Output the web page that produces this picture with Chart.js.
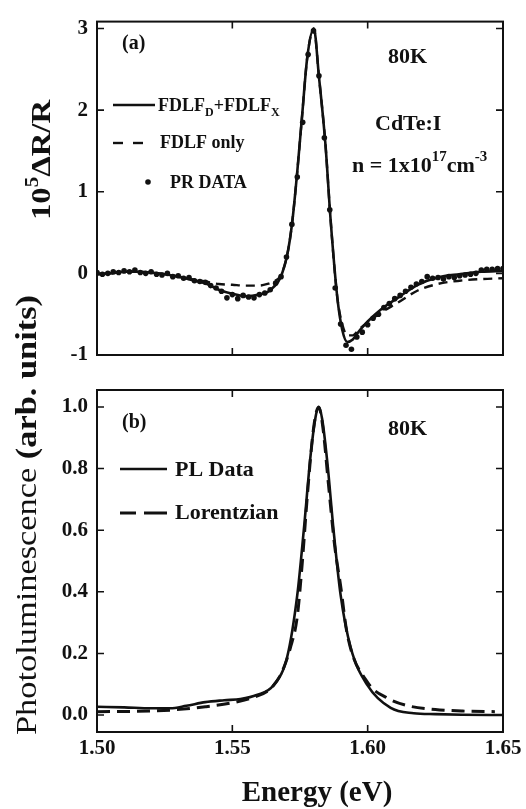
<!DOCTYPE html>
<html>
<head>
<meta charset="utf-8">
<script src="https://cdn.jsdelivr.net/npm/chart.js@4.4.1/dist/chart.umd.min.js"></script>
<style>
  body { margin: 0; background: #fff; }
  #wrap { position: relative; width: 526px; height: 809px; }
  canvas { position: absolute; left: 0; top: 0; }
</style>
</head>
<body>
<div id="wrap">
  <canvas id="prChart" width="526" height="809"></canvas>
  <canvas id="plChart" width="526" height="809"></canvas>
</div>
<script>
// panel (a): photoreflectance
const fitE = [1.500, 1.505, 1.510, 1.515, 1.520, 1.525, 1.530, 1.535, 1.540, 1.545, 1.550, 1.555, 1.560, 1.5630,
  1.5652, 1.5678, 1.5703, 1.5721, 1.5740, 1.5758, 1.5777, 1.5801, 1.5820, 1.5844, 1.5863, 1.5888, 1.5906, 1.5925,
  1.5945, 1.5970, 1.6000, 1.6050, 1.6111, 1.6185, 1.6259, 1.6340, 1.6420, 1.6500];
const fitTotal = [-0.01, 0.00, 0.02, 0.02, 0.01, -0.01, -0.04, -0.08, -0.12, -0.20, -0.25, -0.28, -0.26, -0.23,
  -0.17, -0.05, 0.23, 0.62, 1.25, 1.94, 2.65, 3.00, 2.41, 1.58, 0.66, -0.30, -0.69, -0.84,
  -0.81, -0.70, -0.59, -0.44, -0.30, -0.14, -0.05, -0.01, 0.02, 0.03];
const fitOnly = [-0.01, 0.00, 0.02, 0.02, 0.01, -0.01, -0.04, -0.07, -0.10, -0.13, -0.14, -0.15, -0.15, -0.13,
  -0.10, -0.03, 0.23, 0.62, 1.25, 1.94, 2.65, 3.00, 2.41, 1.58, 0.66, -0.30, -0.62, -0.76,
  -0.76, -0.68, -0.60, -0.48, -0.36, -0.21, -0.13, -0.09, -0.07, -0.06];

const prE = [1.500, 1.502, 1.504, 1.506, 1.508, 1.510, 1.512, 1.514, 1.516, 1.518, 1.520, 1.522, 1.524, 1.526,
  1.528, 1.530, 1.532, 1.534, 1.536, 1.538, 1.540, 1.542, 1.544, 1.546, 1.548, 1.550, 1.552, 1.554, 1.556,
  1.558, 1.560, 1.562, 1.564, 1.566, 1.568, 1.570, 1.572, 1.574, 1.576, 1.578, 1.580, 1.582, 1.584, 1.586,
  1.588, 1.590, 1.592, 1.594, 1.596, 1.598, 1.600, 1.602, 1.604, 1.606, 1.608, 1.610, 1.612, 1.614, 1.616,
  1.618, 1.620, 1.622, 1.624, 1.626, 1.628, 1.630, 1.632, 1.634, 1.636, 1.638, 1.640, 1.642, 1.644, 1.646,
  1.648, 1.650];
const prData = [0.01, -0.01, 0.00, 0.02, 0.01, 0.03, 0.02, 0.04, 0.01, 0.00, 0.02, -0.01, -0.02, 0.00,
  -0.04, -0.03, -0.06, -0.05, -0.09, -0.10, -0.11, -0.15, -0.18, -0.22, -0.30, -0.26, -0.31, -0.27, -0.29,
  -0.30, -0.26, -0.24, -0.20, -0.12, -0.04, 0.20, 0.60, 1.18, 1.85, 2.68, 2.97, 2.42, 1.66, 0.78,
  -0.18, -0.62, -0.88, -0.93, -0.78, -0.72, -0.63, -0.55, -0.50, -0.42, -0.37, -0.31, -0.27, -0.22, -0.17,
  -0.13, -0.10, -0.04, -0.06, -0.05, -0.07, -0.04, -0.05, -0.03, -0.02, -0.01, 0.00, 0.04, 0.05, 0.05,
  0.06, 0.06];

// panel (b): photoluminescence
const plE = [1.500, 1.510, 1.520, 1.527, 1.533, 1.540, 1.547, 1.553, 1.559, 1.5652, 1.5703, 1.5740, 1.5764,
  1.5790, 1.5808, 1.5819, 1.5832, 1.5851, 1.5874, 1.5900, 1.5937, 1.5999, 1.6085, 1.6170, 1.6250, 1.6350, 1.6500];
const plData = [0.027, 0.025, 0.022, 0.022, 0.030, 0.042, 0.048, 0.052, 0.065, 0.097, 0.19, 0.39, 0.60,
  0.85, 0.97, 1.00, 0.96, 0.82, 0.60, 0.39, 0.22, 0.097, 0.023, 0.006, 0.003, 0.001, 0.000];
const lorE = [1.500, 1.515, 1.527, 1.540, 1.550, 1.558, 1.5640, 1.5678, 1.5715, 1.5740, 1.5758, 1.5777, 1.5800,
  1.5819, 1.5835, 1.5855, 1.5878, 1.5900, 1.5925, 1.5999, 1.6073, 1.6150, 1.6250, 1.6350, 1.6470];
const lorData = [0.011, 0.012, 0.016, 0.027, 0.040, 0.058, 0.085, 0.13, 0.22, 0.32, 0.49, 0.71, 0.93,
  1.00, 0.93, 0.75, 0.55, 0.42, 0.26, 0.107, 0.055, 0.030, 0.018, 0.013, 0.011];

const energyTicks = [1.50, 1.55, 1.60, 1.65];
const prTicks = [-1, 0, 1, 2, 3];
const plTicks = [0.0, 0.2, 0.4, 0.6, 0.8, 1.0];

const INK = '#111';
const SERIF = '"Liberation Serif", "Times New Roman", serif';

function pts(xs, ys) {
  return xs.map((x, i) => ({ x, y: ys[i] }));
}

function richText(ctx, x, y, parts) {
  let cx = x;
  parts.forEach(p => {
    ctx.font = (p.w || 'bold') + ' ' + p.s + 'px ' + SERIF;
    ctx.fillText(p.t, cx, y + (p.dy || 0));
    cx += ctx.measureText(p.t).width;
  });
  return cx - x;
}

function richWidth(ctx, parts) {
  let w = 0;
  parts.forEach(p => {
    ctx.font = (p.w || 'bold') + ' ' + p.s + 'px ' + SERIF;
    w += ctx.measureText(p.t).width;
  });
  return w;
}

// rotated axis title, squeezed to a given length
function vertText(ctx, baseX, startY, length, parts) {
  ctx.save();
  ctx.translate(baseX, startY);
  ctx.rotate(-Math.PI / 2);
  ctx.scale(length / richWidth(ctx, parts), 1);
  richText(ctx, 0, 0, parts);
  ctx.restore();
}

const framePlugin = {
  id: 'frame',
  afterDatasetsDraw(chart, args, opts) {
    const { ctx, chartArea: a, scales: { x, y } } = chart;
    ctx.save();
    ctx.strokeStyle = INK;
    ctx.lineWidth = 2;
    ctx.strokeRect(a.left, a.top, a.width, a.height);
    ctx.lineWidth = 1.6;
    ctx.beginPath();
    energyTicks.forEach(v => {
      const px = x.getPixelForValue(v);
      ctx.moveTo(px, a.bottom); ctx.lineTo(px, a.bottom - 7);
      ctx.moveTo(px, a.top); ctx.lineTo(px, a.top + 7);
    });
    opts.yTicks.forEach(v => {
      const py = y.getPixelForValue(v);
      ctx.moveTo(a.left, py); ctx.lineTo(a.left + 7, py);
      ctx.moveTo(a.right, py); ctx.lineTo(a.right - 7, py);
    });
    ctx.stroke();
    ctx.restore();
  },
  afterDraw(chart, args, opts) {
    const ctx = chart.ctx;
    ctx.save();
    ctx.fillStyle = INK;
    ctx.strokeStyle = INK;
    ctx.textBaseline = 'alphabetic';
    opts.draw(ctx);
    ctx.restore();
  }
};

function seg(ctx, x1, x2, y, w) {
  ctx.lineWidth = w;
  ctx.beginPath();
  ctx.moveTo(x1, y);
  ctx.lineTo(x2, y);
  ctx.stroke();
}

const tickFont = { family: SERIF, size: 21, weight: 'bold' };

new Chart(document.getElementById('prChart'), {
  type: 'scatter',
  data: {
    datasets: [
      {
        label: 'FDLF only',
        data: pts(fitE, fitOnly),
        showLine: true,
        borderColor: INK,
        borderWidth: 2.4,
        borderDash: [9, 6],
        pointRadius: 0,
        cubicInterpolationMode: 'monotone'
      },
      {
        label: 'FDLF_D+FDLF_X',
        data: pts(fitE, fitTotal),
        showLine: true,
        borderColor: INK,
        borderWidth: 2.6,
        pointRadius: 0,
        cubicInterpolationMode: 'monotone'
      },
      {
        label: 'PR DATA',
        data: pts(prE, prData),
        showLine: false,
        pointRadius: 2.8,
        pointBorderWidth: 0,
        pointBackgroundColor: INK
      }
    ]
  },
  options: {
    responsive: false,
    animation: false,
    events: [],
    layout: { padding: { top: 14, right: 23, bottom: 454, left: 0 } },
    plugins: {
      legend: { display: false },
      tooltip: { enabled: false },
      frame: {
        yTicks: prTicks,
        draw(ctx) {
          richText(ctx, 122, 49, [{ t: '(a)', s: 20 }]);
          richText(ctx, 388, 63, [{ t: '80K', s: 22 }]);
          richText(ctx, 375, 130, [{ t: 'CdTe:I', s: 22 }]);
          richText(ctx, 352, 172, [
            { t: 'n = 1x10', s: 22 }, { t: '17', s: 15, dy: -11 },
            { t: 'cm', s: 22 }, { t: '-3', s: 15, dy: -11 }
          ]);
          seg(ctx, 113, 155, 105, 2.6);
          richText(ctx, 158, 111, [
            { t: 'FDLF', s: 18 }, { t: 'D', s: 12, dy: 5 },
            { t: '+FDLF', s: 18 }, { t: 'X', s: 12, dy: 5 }
          ]);
          seg(ctx, 113, 123, 143, 2.4);
          seg(ctx, 133, 143, 143, 2.4);
          richText(ctx, 160, 148, [{ t: 'FDLF only', s: 18 }]);
          ctx.beginPath();
          ctx.arc(148, 182, 2.8, 0, Math.PI * 2);
          ctx.fill();
          richText(ctx, 170, 188, [{ t: 'PR DATA', s: 18 }]);
          vertText(ctx, 50, 220, 120, [
            { t: '10', s: 28 }, { t: '5', s: 18, dy: -12 }, { t: '\u0394R/R', s: 28 }
          ]);
        }
      }
    },
    scales: {
      x: {
        type: 'linear',
        min: 1.50,
        max: 1.65,
        ticks: { display: false },
        grid: { display: false },
        border: { display: false },
        afterFit(scale) { scale.height = 0; }
      },
      y: {
        min: -1,
        max: 3.084,
        afterBuildTicks(scale) { scale.ticks = prTicks.map(v => ({ value: v })); },
        ticks: { color: INK, font: tickFont, padding: 9, callback: v => String(v) },
        grid: { display: false, drawTicks: false },
        border: { display: false },
        afterFit(scale) { scale.width = 97; }
      }
    }
  },
  plugins: [framePlugin]
});

new Chart(document.getElementById('plChart'), {
  type: 'scatter',
  data: {
    datasets: [
      {
        label: 'Lorentzian',
        data: pts(lorE, lorData),
        showLine: true,
        borderColor: INK,
        borderWidth: 3,
        borderDash: [13, 7],
        pointRadius: 0,
        cubicInterpolationMode: 'monotone'
      },
      {
        label: 'PL Data',
        data: pts(plE, plData),
        showLine: true,
        borderColor: INK,
        borderWidth: 2.6,
        pointRadius: 0,
        cubicInterpolationMode: 'monotone'
      }
    ]
  },
  options: {
    responsive: false,
    animation: false,
    events: [],
    layout: { padding: { top: 390, right: 23, bottom: 0, left: 0 } },
    plugins: {
      legend: { display: false },
      tooltip: { enabled: false },
      frame: {
        yTicks: plTicks,
        draw(ctx) {
          richText(ctx, 122, 428, [{ t: '(b)', s: 20 }]);
          richText(ctx, 388, 435, [{ t: '80K', s: 22 }]);
          seg(ctx, 120, 167, 469, 2.6);
          richText(ctx, 175, 476, [{ t: 'PL Data', s: 22 }]);
          seg(ctx, 120, 136, 513, 3);
          seg(ctx, 144, 167, 513, 3);
          richText(ctx, 175, 519, [{ t: 'Lorentzian', s: 22 }]);
          ctx.textAlign = 'center';
          richText(ctx, 317, 801, [{ t: 'Energy (eV)', s: 29 }]);
          ctx.textAlign = 'left';
          vertText(ctx, 36, 735, 440, [
            { t: 'Photoluminescence ', s: 30, w: 'normal' }, { t: '(arb. units)', s: 30 }
          ]);
        }
      }
    },
    scales: {
      x: {
        type: 'linear',
        min: 1.50,
        max: 1.65,
        afterBuildTicks(scale) { scale.ticks = energyTicks.map(v => ({ value: v })); },
        ticks: { color: INK, font: tickFont, padding: 4, maxRotation: 0, autoSkip: false, callback: v => v.toFixed(2) },
        grid: { display: false, drawTicks: false },
        border: { display: false },
        afterFit(scale) { scale.height = 77; }
      },
      y: {
        min: -0.055,
        max: 1.055,
        afterBuildTicks(scale) { scale.ticks = plTicks.map(v => ({ value: v })); },
        ticks: { color: INK, font: tickFont, padding: 9, callback: v => v.toFixed(1) },
        grid: { display: false, drawTicks: false },
        border: { display: false },
        afterFit(scale) { scale.width = 97; }
      }
    }
  },
  plugins: [framePlugin]
});
</script>
</body>
</html>
